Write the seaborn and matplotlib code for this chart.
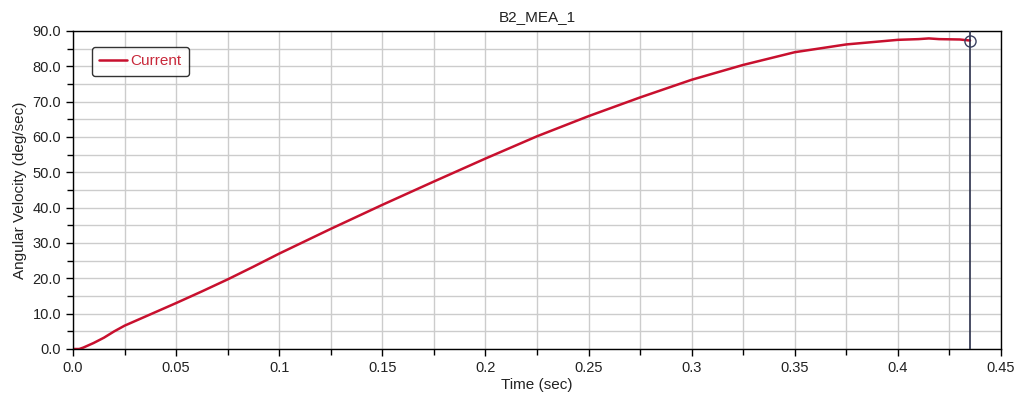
import matplotlib
matplotlib.use("Agg")
import matplotlib.pyplot as plt
import numpy as np
import pandas as pd
import seaborn as sns
from matplotlib.ticker import MultipleLocator, FixedLocator, FixedFormatter

# values
time_s = [0, 0.003, 0.005, 0.01, 0.015, 0.02, 0.025, 0.0375, 0.05, 0.0625,
          0.075, 0.0875, 0.1, 0.125, 0.15, 0.175, 0.2, 0.225, 0.25, 0.275,
          0.3, 0.325, 0.35, 0.375, 0.4, 0.41, 0.415, 0.42, 0.43, 0.435]
ang_vel = [0, 0, 0.4, 1.7, 3.2, 5.0, 6.6, 9.8, 13.0, 16.3, 19.7, 23.3, 27.0,
           34.0, 40.8, 47.4, 53.9, 60.2, 65.9, 71.2, 76.2, 80.4, 84.0, 86.2,
           87.5, 87.7, 87.9, 87.7, 87.6, 87.3]
cursor_t = 0.435
cursor_v = 87.3

x_ticks = [0, 0.05, 0.1, 0.15, 0.2, 0.25, 0.3, 0.35, 0.4, 0.45]
x_labels = ["0.0", "0.05", "0.1", "0.15", "0.2", "0.25", "0.3", "0.35", "0.4", "0.45"]
y_ticks = [0, 10, 20, 30, 40, 50, 60, 70, 80, 90]
y_labels = ["0.0", "10.0", "20.0", "30.0", "40.0", "50.0", "60.0", "70.0", "80.0", "90.0"]

df = pd.DataFrame({"Time (sec)": time_s, "Angular Velocity (deg/sec)": ang_vel})

sns.set_style("white")
plt.rcParams["font.family"] = ["Liberation Sans", "DejaVu Sans"]

fig = plt.figure(figsize=(10.19, 4.03), dpi=100)
ax = fig.add_axes([73 / 1019, 1 - 349 / 403, 928 / 1019, 318 / 403])

sns.lineplot(data=df, x="Time (sec)", y="Angular Velocity (deg/sec)", ax=ax,
             color="#c8102e", linewidth=1.8, label="Current")

# cursor line and marker
ax.axvline(cursor_t, color="#2a2f4a", linewidth=1.2, zorder=3)
ax.plot([cursor_t], [cursor_v], marker="o", markersize=8, markerfacecolor="none",
        markeredgecolor="#3a4060", markeredgewidth=1.0, zorder=4)

ax.set_xlim(0, 0.45)
ax.set_ylim(0, 90)
ax.xaxis.set_major_locator(FixedLocator(x_ticks))
ax.xaxis.set_major_formatter(FixedFormatter(x_labels))
ax.yaxis.set_major_locator(FixedLocator(y_ticks))
ax.yaxis.set_major_formatter(FixedFormatter(y_labels))
ax.xaxis.set_minor_locator(MultipleLocator(0.025))
ax.yaxis.set_minor_locator(MultipleLocator(5))

ax.grid(True, which="both", color="#cccccc", linewidth=1.0)
ax.set_axisbelow(True)
for s in ax.spines.values():
    s.set_color("black")
    s.set_linewidth(1.0)

ax.tick_params(which="major", direction="out", length=5, width=1, color="black",
               labelsize=10.5, labelcolor="#222222", bottom=True, left=True)
ax.tick_params(which="minor", direction="out", length=4, width=1, color="black",
               bottom=True, left=True)

ax.set_xlabel("Time (sec)", fontsize=11, color="#222222", labelpad=2)
ax.set_ylabel("Angular Velocity (deg/sec)", fontsize=11, color="#222222", labelpad=4)
ax.set_title("B2_MEA_1", fontsize=11, color="#222222", pad=7)

leg = ax.legend(loc="upper left", bbox_to_anchor=(0.012, 0.975), fontsize=11,
                frameon=True, fancybox=True, handlelength=1.8, handletextpad=0.2,
                borderpad=0.5)
leg.get_frame().set_edgecolor("black")
leg.get_frame().set_linewidth(1.0)
for t in leg.get_texts():
    t.set_color("#c8283a")

fig.savefig("out.png", dpi=100)
